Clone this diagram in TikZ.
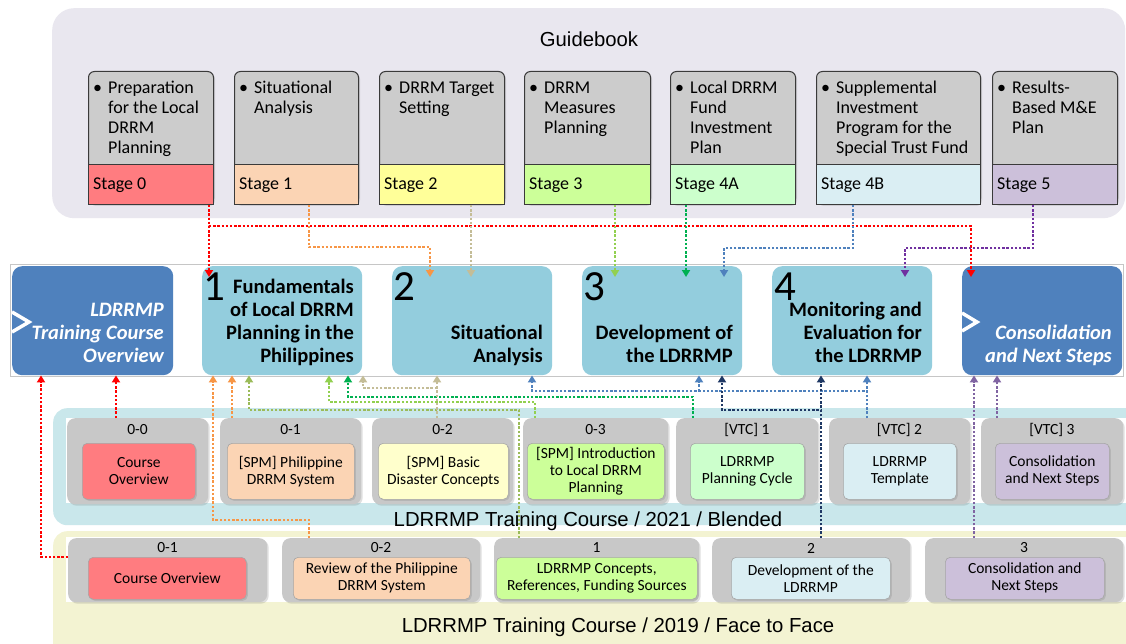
\documentclass[tikz,border=0pt]{standalone}
\usepackage{fontspec}
\setmainfont{Carlito}
\newfontfamily\arialfont{Liberation Sans}
\usetikzlibrary{arrows.meta,calc,shadows}
\definecolor{gbBg}{HTML}{E9E7EF}
\definecolor{blBg}{HTML}{C9E7EB}
\definecolor{ffBg}{HTML}{F3F3D2}
\definecolor{cardGray}{HTML}{C8C8C8}
\definecolor{stGray}{HTML}{CCCCCC}
\definecolor{stEdge}{HTML}{3A3A3A}
\definecolor{fRed}{HTML}{FF7C80}
\definecolor{fPeach}{HTML}{FBD4B4}
\definecolor{fYellow}{HTML}{FFFF99}
\definecolor{fPaleY}{HTML}{FFFFCC}
\definecolor{fLime}{HTML}{CCFF99}
\definecolor{fMint}{HTML}{CCFFCC}
\definecolor{fIce}{HTML}{DAEEF3}
\definecolor{fLilac}{HTML}{CCC0DA}
\definecolor{dBlue}{HTML}{4F81BD}
\definecolor{lBlue}{HTML}{93CDDD}
\definecolor{cRed}{HTML}{FF0000}
\definecolor{cOrange}{HTML}{F79646}
\definecolor{cTan}{HTML}{C4BD97}
\definecolor{cLime}{HTML}{92D050}
\definecolor{cGreen}{HTML}{00B050}
\definecolor{cOlive}{HTML}{9BBB59}
\definecolor{cBlue}{HTML}{4F81BD}
\definecolor{cNavy}{HTML}{1F3864}
\definecolor{cPurple}{HTML}{7030A0}
\definecolor{cViolet}{HTML}{8064A2}
\tikzset{
  panel/.style={anchor=north west, inner sep=0pt, rounded corners=#1},
  shd/.style={drop shadow={opacity=0.25, shadow xshift=1.5pt, shadow yshift=-1.5pt}},
  stcard/.style={anchor=north west, inner sep=0pt, fill=stGray, draw=stEdge, line width=1pt, rounded corners=6pt, minimum height=133pt, shd},
  stlabel/.style={anchor=north west, inner sep=0pt, draw=stEdge, line width=1pt, minimum height=40pt},
  sttext/.style={anchor=base west, inner sep=0pt, font=\fontsize{18}{20}\selectfont},
  mbox/.style={anchor=north west, inner sep=0pt, rounded corners=10pt, minimum width=160pt, minimum height=109pt},
  mtext/.style={anchor=base east, inner sep=0pt, font=\fontsize{20.5}{23}\selectfont\bfseries},
  mtextw/.style={anchor=base east, inner sep=0pt, text=white, font=\fontsize{20.5}{23}\selectfont\bfseries\itshape},
  mnum/.style={anchor=base west, inner sep=0pt, font=\fontsize{43}{43}\selectfont},
  card/.style={anchor=north west, inner sep=0pt, fill=cardGray, rounded corners=8pt, shd},
  incard/.style={anchor=north west, inner sep=0pt, draw=gray!70, line width=0.6pt, rounded corners=5pt, align=center, font=\fontsize{15.5}{17}\selectfont, shd},
  clabel/.style={inner sep=0pt, font=\fontsize{15.5}{17}\selectfont},
  ttl/.style={anchor=base, inner sep=0pt, font=\arialfont\fontsize{20.3}{24}\selectfont},
  cn/.style={draw=#1, line width=2.4pt, dash pattern=on 2.4pt off 1.8pt, -{Triangle[width=8pt,length=7pt]}},
  deep/.style={shorten >=-11pt},
  chev/.style={white, line width=3.5pt, miter limit=10},
}
\newcommand\mkstage[6]{%
  \node[stcard, minimum width={#3-#2}] (#1c) at (#2,71) {};
  \node[stlabel, fill=#4, minimum width={#3-#2}] (#1) at (#2,164) {};
  \node[sttext] (#1t) at ({#2+5},94) {\makebox[15pt][l]{\textbullet}\begin{tabular}[t]{@{}l@{}}#5\end{tabular}};
  \node[sttext] (#1l) at ({#2+5},190) {#6};
}
\newcommand\mkcard[8]{%
  \node[card, minimum width={#3-#2}, minimum height=86pt] (#1) at (#2,418) {};
  \node[clabel] (#1l) at ({(#2+#3)/2},430) {#4};
  \node[incard, fill=#7, minimum width={#6-#5}, minimum height=56pt] (#1i) at (#5,443) {#8};
}
\newcommand\mkfcard[8]{%
  \node[card, minimum width={#3-#2}, minimum height=64pt] (#1) at (#2,538) {};
  \node[clabel] (#1l) at ({(#2+#3)/2},548) {#4};
  \node[incard, fill=#7, minimum width={#6-#5}, minimum height=42pt] (#1i) at (#5,557) {#8};
}
\begin{document}
\begin{tikzpicture}[x=1pt,y=-1pt]
\useasboundingbox (0,0) rectangle (1126,644);
\fill[white] (0,0) rectangle (1126,644);
% Guidebook panel
\node[panel=22pt, fill=gbBg, minimum width=1073pt, minimum height=210pt] (gb) at (52,8) {};
\node[ttl] (gbt) at (589,47) {Guidebook};
\mkstage{s0}{88}{213}{fRed}{Preparation\\for the Local\\DRRM\\Planning}{Stage 0}
\mkstage{s1}{234}{358}{fPeach}{Situational\\Analysis}{Stage 1}
\mkstage{s2}{379}{504}{fYellow}{DRRM Target\\Setting}{Stage 2}
\mkstage{s3}{524}{650}{fLime}{DRRM\\Measures\\Planning}{Stage 3}
\mkstage{s4a}{670}{795}{fMint}{Local DRRM\\Fund\\Investment\\Plan}{Stage 4A}
\mkstage{s4b}{816}{980}{fIce}{Supplemental\\Investment\\Program for the\\Special Trust Fund}{Stage 4B}
\mkstage{s5}{992}{1117}{fLilac}{Results-\\Based M\&E\\Plan}{Stage 5}
% middle band
\node[draw=gray!45, line width=0.8pt, anchor=north west, inner sep=0pt, minimum width=1113pt, minimum height=112pt] (band) at (10,264) {};
\node[mbox, fill=dBlue, minimum width=161pt] (b0) at (12,266) {};
\node[mbox, fill=lBlue] (b1) at (202,266) {};
\node[mbox, fill=lBlue] (b2) at (392,266) {};
\node[mbox, fill=lBlue] (b3) at (582,266) {};
\node[mbox, fill=lBlue] (b4) at (772,266) {};
\node[mbox, fill=dBlue] (b5) at (962,266) {};
\draw[chev] (b0.west |- 0,312) -- (29,322) -- (b0.west |- 0,332);
\draw[chev] (b5.west |- 0,313) -- (977,322) -- (b5.west |- 0,331);
\node[mtextw] (b0t) at (164,362) {\begin{tabular}[b]{@{}r@{}}LDRRMP\\Training Course\\Overview\end{tabular}};
\node[mnum] (b1n) at (203,300) {1};
\node[mtext] (b1t) at (354,362) {\begin{tabular}[b]{@{}r@{}}Fundamentals\\of Local DRRM\\Planning in the\\Philippines\end{tabular}};
\node[mnum] (b2n) at (393,300) {2};
\node[mtext] (b2t) at (543,362) {\begin{tabular}[b]{@{}r@{}}Situational\\Analysis\end{tabular}};
\node[mnum] (b3n) at (583,300) {3};
\node[mtext] (b3t) at (733,362) {\begin{tabular}[b]{@{}r@{}}Development of\\the LDRRMP\end{tabular}};
\node[mnum] (b4n) at (774,300) {4};
\node[mtext] (b4t) at (922,362) {\begin{tabular}[b]{@{}r@{}}Monitoring and\\Evaluation for\\the LDRRMP\end{tabular}};
\node[mtextw] (b5t) at (1112,362) {\begin{tabular}[b]{@{}r@{}}Consolidation\\and Next Steps\end{tabular}};
% blended panel
\node[panel=14pt, fill=blBg, minimum width=1090pt, minimum height=117pt] (blp) at (53,408) {};
\node[anchor=north west, inner sep=0pt, fill=white, minimum width=1062pt, minimum height=85pt] (blw) at (66,418) {};
\node[ttl] (blt) at (588,526) {LDRRMP Training Course / 2021 / Blended};
\mkcard{c00}{67}{208}{0-0}{82}{195}{fRed}{Course\\Overview}
\mkcard{c01}{220}{361}{0-1}{227}{354}{fPeach}{[SPM] Philippine\\DRRM System}
\mkcard{c02}{372}{513}{0-2}{378}{508}{fPaleY}{[SPM] Basic\\Disaster Concepts}
\mkcard{c03}{523}{668}{0-3}{527}{664}{fLime}{[SPM] Introduction\\to Local DRRM\\Planning}
\mkcard{c11}{676}{818}{[VTC] 1}{690}{804}{fMint}{LDRRMP\\Planning Cycle}
\mkcard{c12}{829}{970}{[VTC] 2}{843}{956}{fIce}{LDRRMP\\Template}
\mkcard{c13}{981}{1123}{[VTC] 3}{995}{1109}{fLilac}{Consolidation\\and Next Steps}
% face to face panel
\node[panel=14pt, fill=ffBg, minimum width=1090pt, minimum height=130pt] (ffp) at (53,531) {};
\node[anchor=north west, inner sep=0pt, fill=white, minimum width=1062pt, minimum height=65pt] (ffw) at (66,537) {};
\node[ttl] (fft) at (618,632) {LDRRMP Training Course / 2019 / Face to Face};
\mkfcard{f01}{68}{267}{0-1}{88}{246}{fRed}{Course Overview}
\mkfcard{f02}{282}{480}{0-2}{293}{470}{fPeach}{Review of the Philippine\\DRRM System}
\mkfcard{f1}{494}{699}{1}{496}{697}{fLime}{LDRRMP Concepts,\\References, Funding Sources}
\mkfcard{f2}{712}{910}{2}{731}{890}{fIce}{Development of the\\LDRRMP}
\mkfcard{f3}{925}{1123}{3}{945}{1104}{fLilac}{Consolidation and\\Next Steps}
% connectors: guidebook -> modules
\draw[cn=cRed, deep] (s0.south -| 209,0) -- (b1.north -| 209,0);
\draw[cn=cRed, deep] (s0.south -| 209,0) |- (971,226) -- (b5.north -| 971,0);
\draw[cn=cOrange, deep] (s1.south -| 309,0) |- (430,247) -- (b2.north -| 430,0);
\draw[cn=cTan, deep] (s2.south -| 471,0) -- (b2.north -| 471,0);
\draw[cn=cLime, deep] (s3.south -| 615,0) -- (b3.north -| 615,0);
\draw[cn=cGreen, deep] (s4a.south -| 686,0) -- (b3.north -| 686,0);
\draw[cn=cBlue, deep] (s4b.south -| 853,0) |- (724,248) -- (b3.north -| 724,0);
\draw[cn=cPurple, deep] (s5.south -| 1033,0) |- (905,248) -- (b4.north -| 905,0);
% connectors: courses -> modules
\coordinate (tanj) at (437,388);
\coordinate (bluej) at (699,391);
\draw[cn=cRed] (f01.west |- 0,557) -| (b0.south -| 41,0);
\draw[cn=cRed] (c00.north -| 116,0) -- (b0.south -| 116,0);
\draw[cn=cOrange] (f02.north -| 309,0) |- (213,520) -- (b1.south -| 213,0);
\draw[cn=cOrange] (c01.north -| 232,0) -- (b1.south -| 232,0);
\draw[cn=cOlive] (f1.north -| 519,0) |- (249,410) -- (b1.south -| 249,0);
\draw[cn=cLime] (c03.north -| 535,0) |- (329,402) -- (b1.south -| 329,0);
\draw[cn=cGreen] (c11.north -| 693,0) |- (348,397) -- (b1.south -| 348,0);
\draw[cn=cTan] (c02.north -| tanj) -- (b2.south -| tanj);
\draw[cn=cTan] (tanj) -| (b1.south east -| 363,0);
\draw[cn=cBlue] (c12.north -| 867,0) -- (b4.south -| 867,0);
\draw[cn=cBlue] (c12.north -| 867,0) |- (532,391) -- (b2.south -| 532,0);
\draw[cn=cBlue] (bluej) -- (b3.south -| bluej);
\draw[cn=cNavy] (f2.north -| 821,0) -- (b4.south -| 821,0);
\draw[cn=cNavy] (f2.north -| 821,0) |- (722,410) -- (b3.south -| 722,0);
\draw[cn=cViolet] (f3.north -| 974,0) -- (b5.south -| 974,0);
\draw[cn=cViolet] (c13.north -| 997,0) -- (b5.south -| 997,0);
\end{tikzpicture}
\end{document}
